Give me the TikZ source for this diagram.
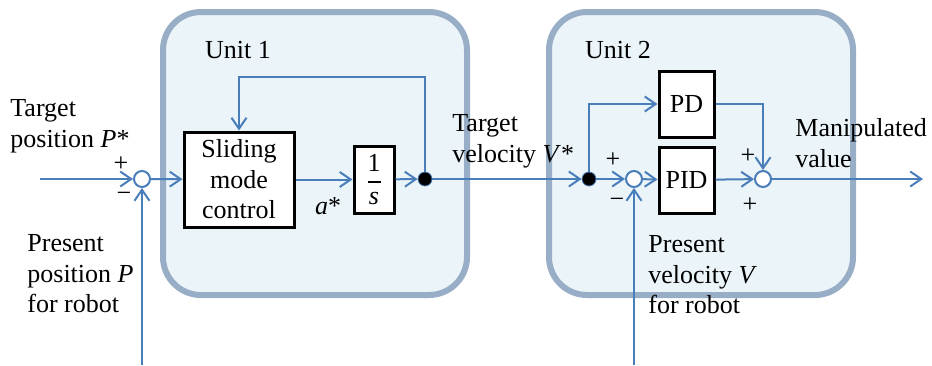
\documentclass[tikz,border=0pt]{standalone}
\usepackage{amsmath}
\usepackage{fontspec}
\setmainfont{Liberation Serif}
\newfontfamily\diagfont{Liberation Serif}
\usetikzlibrary{arrows.meta}
\definecolor{unitfill}{HTML}{EBF4F8}
\definecolor{unitline}{HTML}{98ADC6}
\definecolor{sigline}{HTML}{4A7EBB}

\begin{document}
\begin{tikzpicture}[x=0.5pt, y=-0.5pt, >={Straight Barb[length=5.5pt,width=7.5pt]},
    every node/.style={font=\diagfont\fontsize{13}{15.3}\selectfont},
    unit/.style={draw=unitline, line width=3pt, fill=unitfill, rounded corners=19pt},
    block/.style={draw, line width=1.5pt, fill=white, inner sep=0pt, align=center},
    sum/.style={circle, draw=sigline, line width=1pt, fill=white, minimum size=8pt, inner sep=0pt},
    joint/.style={circle, draw=sigline, fill=black, minimum size=7pt, inner sep=0pt},
    sig/.style={sigline, line width=1pt},
    lbl/.style={align=left, inner sep=0pt, anchor=west}]
    \useasboundingbox (0,0) rectangle (932,365);

    % the two units
    \draw[unit] (163,12) rectangle (467,295);
    \draw[unit] (549,12) rectangle (853,295);
    \node (u1) at (238,50) {Unit 1};
    \node (u2) at (618,50) {Unit 2};

    % blocks and junctions
    \node[sum] (s1) at (142,179) {};
    \node[block, minimum width=55pt, minimum height=47.5pt] (smc) at (239,179.5) {Sliding\\mode\\control};
    \node[block, minimum width=20pt, minimum height=33.5pt] (int) at (374,179.5)
      {$\genfrac{}{}{1pt}{0}{\textrm{1}}{\textit{s}}$};
    \node[joint] (j1) at (425,179) {};
    \node[joint] (j2) at (589,179) {};
    \node[sum] (s2) at (634,179) {};
    \node[block, minimum width=27.5pt, minimum height=33pt] (pd) at (686.5,104) {PD};
    \node[block, minimum width=27.5pt, minimum height=33pt] (pid) at (686.5,180) {PID};
    \node[sum] (s3) at (763,179) {};

    \coordinate (in) at (40,179);
    \coordinate (out) at (923,179);
    \coordinate (fbP) at (142,365);
    \coordinate (fbV) at (634,365);

    % signal lines
    \draw[sig,->] (in) -- (s1);
    \draw[sig,->] (s1) -- (smc);
    \draw[sig,->] (smc) -- (int);
    \draw[sig,->] (int) -- (j1);
    \draw[sig,->] (j1.north) -- ++(0,-95) -| (smc.north);
    \draw[sig,->] (j1) -- (j2);
    \draw[sig,->] (j2) -- (s2);
    \draw[sig,->] (s2) -- (pid);
    \draw[sig,->] (pid) -- (s3);
    \draw[sig,->] (s3) -- (out);
    \draw[sig,->] (j2.north) |- (pd.west);
    \draw[sig,->] (pd.east) -| (s3.north);
    \draw[sig,->] (fbP) -- (s1.south);
    \draw[sig,->] (fbV) -- (s2.south);

    % labels
    \node[lbl] (tp) at (10,126) {Target\\position \textit{P}*};
    \node[lbl] (pp) at (27,274) {Present\\position \textit{P}\\for robot};
    \node[lbl] (tv) at (452,141) {Target\\velocity \textit{V}*};
    \node[lbl] (pv) at (648,275) {Present\\velocity \textit{V}\\for robot};
    \node[lbl] (mv) at (795,143) {Manipulated\\value};
    \node (as) at (328,206) {\textit{a}*};

    \node (p1) at (121,164) {+};
    \node (m1) at (124,197) {−};
    \node (p2) at (613,160) {+};
    \node (m2) at (617,203) {−};
    \node (p3) at (748,156) {+};
    \node (p4) at (750,205) {+};
\end{tikzpicture}
\end{document}
